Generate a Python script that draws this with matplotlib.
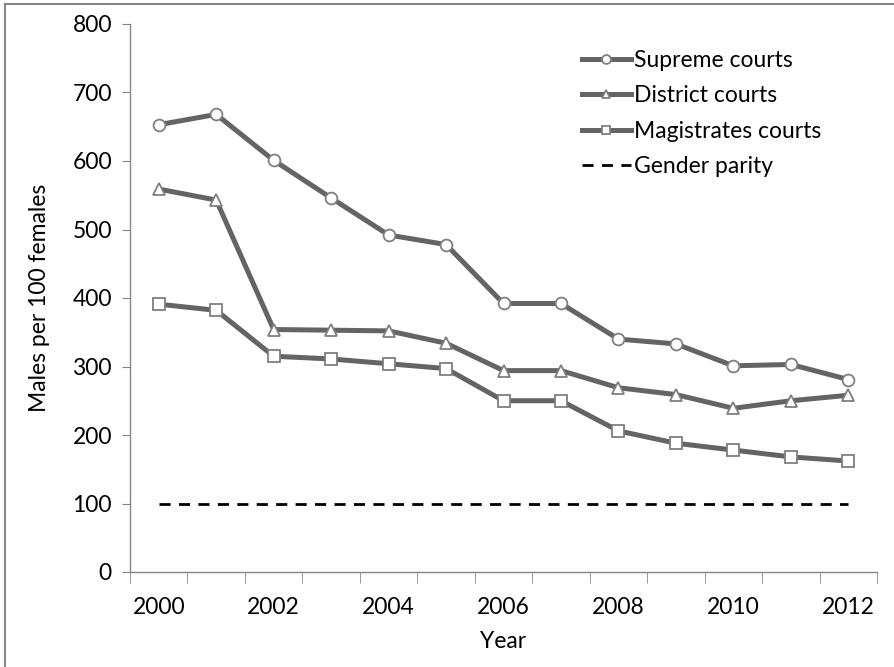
import matplotlib.pyplot as plt
from matplotlib.lines import Line2D

years = list(range(2000, 2013))
supreme = [653, 668, 601, 546, 492, 478, 392, 392, 340, 333, 301, 303, 281]
district = [559, 543, 354, 353, 352, 334, 294, 294, 269, 259, 239, 250, 258]
magistrates = [391, 382, 315, 311, 304, 297, 250, 250, 206, 188, 178, 168, 162]
parity = [100] * len(years)

series_labels = ["Supreme courts", "District courts", "Magistrates courts", "Gender parity"]
year_labels = [str(y) for y in years[::2]]
y_ticks = [0, 100, 200, 300, 400, 500, 600, 700, 800]

plt.rcParams["font.family"] = ["Lato", "DejaVu Sans"]
plt.rcParams["font.size"] = 16.5

line_color = "#646464"
edge_color = "#7f7f7f"
axis_color = "#868686"

fig = plt.figure(figsize=(8.94, 6.67), dpi=100)
ax = fig.add_axes([130 / 894, 1 - 572 / 667, 747 / 894, 548 / 667])

common = dict(color=line_color, lw=3.6, markersize=8.5, markerfacecolor="white",
              markeredgecolor=edge_color, markeredgewidth=1.3)
ax.plot(years, supreme, marker="o", label=series_labels[0], **common)
ax.plot(years, district, marker="^", label=series_labels[1], **common)
ax.plot(years, magistrates, marker="s", label=series_labels[2], **common)
ax.plot(years, parity, color="black", lw=2, dashes=(4, 3), label=series_labels[3])

ax.set_xlim(years[0] - 0.5, years[-1] + 0.5)
ax.set_ylim(0, 800)
ax.set_yticks(y_ticks)
ax.set_xticks(years[::2])
ax.set_xticklabels(year_labels)
ax.set_xticks([y - 0.5 for y in years] + [years[-1] + 0.5], minor=True)

for side in ["top", "right"]:
    ax.spines[side].set_visible(False)
for side in ["left", "bottom"]:
    ax.spines[side].set_color(axis_color)
    ax.spines[side].set_linewidth(1)

ax.tick_params(axis="y", length=6, color=axis_color, pad=7)
ax.tick_params(axis="x", which="major", length=0, pad=18)
ax.tick_params(axis="x", which="minor", length=8, color=axis_color)

ax.set_xlabel("Year", labelpad=9)
ax.set_ylabel("Males per 100 females", labelpad=16)

ax.legend(loc="upper left", bbox_to_anchor=(0.578, 0.99), frameon=False,
          handlelength=2.1, handletextpad=0.15, labelspacing=0.62,
          markerscale=0.75, numpoints=1)

# chart area frame
fig.add_artist(Line2D([5 / 894, 5 / 894], [0, 1 - 4 / 667], color=axis_color, lw=1.5))
fig.add_artist(Line2D([5 / 894, 1], [1 - 4 / 667, 1 - 4 / 667], color=axis_color, lw=1.5))

fig.savefig("out.png", dpi=100)
